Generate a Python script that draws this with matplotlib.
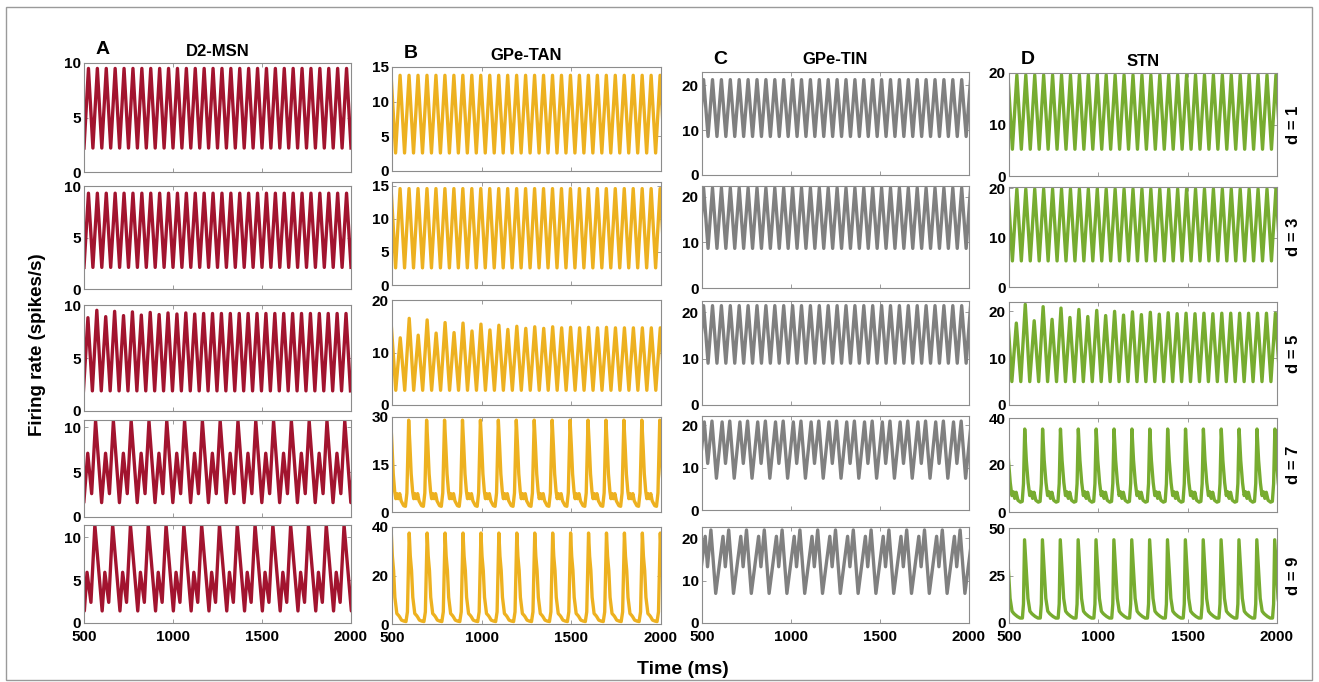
import numpy as np
import matplotlib
matplotlib.use("Agg")
import matplotlib.pyplot as plt
from matplotlib.patches import Rectangle

plt.rcParams['font.family'] = ['Liberation Sans', 'DejaVu Sans']
plt.rcParams['font.weight'] = 'bold'

# Datos (ms, spikes/s)
t_min, t_max = 500, 2000
half_fast = 25      # ms entre pico y valle (d = 1, 3, 5)
period_slow = 100   # ms entre picos grandes (d = 7, 9)

columns = ['D2-MSN', 'GPe-TAN', 'GPe-TIN', 'STN']
letters = ['A', 'B', 'C', 'D']
d_labels = ['d = 1', 'd = 3', 'd = 5', 'd = 7', 'd = 9']
colors = ['#A2142F', '#EDB120', '#808080', '#77AC30']

# filas d = 1, 3, 5: tiempo del primer pico, picos, valle
msn_fast_t = [525, 525, 522]
msn_fast_peaks = [
    [9.5] * 30,
    [9.3] * 30,
    [8.8, 9.5, 8.9, 9.4, 9.0, 9.35, 9.05, 9.3, 9.1, 9.25, 9.15, 9.25, 9.15, 9.2, 9.2,
     9.2, 9.2, 9.2, 9.2, 9.2, 9.2, 9.2, 9.2, 9.2, 9.2, 9.2, 9.2, 9.2, 9.2, 9.2],
]
msn_fast_trough = [2.2, 2.1, 1.9]

tan_fast_t = [495, 495, 496]
tan_fast_peaks = [
    [13.8] * 31,
    [14.6] * 31,
    [15.2, 12.8, 16.5, 13.3, 16.2, 13.7, 15.7, 13.8, 15.6, 14.1, 15.4, 14.3, 15.2, 14.4, 15.0,
     14.6, 14.9, 14.6, 14.9, 14.7, 14.8, 14.7, 14.8, 14.7, 14.8, 14.7, 14.7, 14.7, 14.7, 14.7, 14.7],
]
tan_fast_trough = [2.6, 2.6, 2.8]

tin_fast_t = [509, 509, 509]
tin_fast_peaks = [[21.3] * 31, [22.0] * 31, [21.4] * 31]
tin_fast_trough = [8.6, 8.7, 9.0]

stn_fast_t = [494, 494, 491]
stn_fast_peaks = [
    [19.6] * 31,
    [19.9] * 31,
    [20.0, 17.5, 21.5, 18.0, 21.0, 18.3, 20.7, 18.7, 20.4, 18.9, 20.2, 19.1, 20.0, 19.2, 19.9,
     19.3, 19.8, 19.4, 19.7, 19.5, 19.6, 19.5, 19.6, 19.5, 19.6, 19.6, 19.6, 19.6, 19.6, 19.6, 19.6],
]
stn_fast_trough = [5.2, 5.3, 5.0]

# filas d = 7, 9: un ciclo (offset ms, valor) repetido cada 100 ms
msn_slow_t = [565, 561]
msn_slow_off = [[0, 34, 56, 78], [0, 41, 56, 78]]
msn_slow_val = [[10.7, 1.6, 7.1, 2.6], [11.4, 1.4, 5.9, 2.4]]

tan_slow_t = [593, 596]
tan_slow_off = [[0, 7, 14, 22, 28, 35, 42, 50, 58, 72, 82, 90],
                [0, 6, 13, 20, 31, 40, 46, 57, 70, 82, 90]]
tan_slow_val = [[29.0, 21.0, 12.0, 6.5, 4.2, 5.8, 4.2, 5.8, 3.5, 2.0, 1.8, 6.0],
                [37.5, 28.0, 22.0, 11.0, 4.3, 3.6, 3.0, 1.6, 1.2, 1.0, 5.0]]

tin_slow_t = [481, 477]
tin_slow_off = [[0, 32, 51, 75], [0, 41, 54, 73]]
tin_slow_val = [[7.5, 20.8, 11.0, 21.0], [7.0, 20.5, 13.3, 22.0]]

stn_slow_t = [588, 587]
stn_slow_off = [[0, 9, 19, 28, 36, 44, 52, 62, 76, 86, 93],
                [0, 9, 19, 30, 40, 47, 60, 75, 88, 94]]
stn_slow_val = [[35.3, 22.0, 12.5, 7.0, 8.6, 5.8, 8.4, 5.0, 4.2, 4.5, 12.0],
                [43.8, 29.0, 13.0, 6.2, 5.0, 4.4, 3.4, 2.6, 2.6, 10.0]]

# limites y ticks del eje y
ylims = [
    [10, 10, 10, 10.8, 11.4],
    [15, 15.6, 20, 30, 40],
    [23, 22.4, 22.4, 22.2, 22.7],
    [20, 20.3, 22, 40, 50],
]
yticks = [
    [[0, 5, 10]] * 5,
    [[0, 5, 10, 15], [0, 5, 10, 15], [0, 10, 20], [0, 15, 30], [0, 20, 40]],
    [[0, 10, 20]] * 5,
    [[0, 10, 20], [0, 10, 20], [0, 10, 20], [0, 20, 40], [0, 25, 50]],
]

fast_t = [msn_fast_t, tan_fast_t, tin_fast_t, stn_fast_t]
fast_peaks = [msn_fast_peaks, tan_fast_peaks, tin_fast_peaks, stn_fast_peaks]
fast_trough = [msn_fast_trough, tan_fast_trough, tin_fast_trough, stn_fast_trough]
slow_t = [msn_slow_t, tan_slow_t, tin_slow_t, stn_slow_t]
slow_off = [msn_slow_off, tan_slow_off, tin_slow_off, stn_slow_off]
slow_val = [msn_slow_val, tan_slow_val, tin_slow_val, stn_slow_val]


def fast_trace(t_first, peaks, trough):
    t, y = [], []
    for k, p in enumerate(peaks):
        tp = t_first + 2 * half_fast * k
        t += [tp - half_fast, tp]
        y += [trough, p]
    t.append(t[-1] + half_fast)
    y.append(trough)
    return np.array(t), np.array(y)


def slow_trace(t0, offs, vals):
    t, y = [], []
    for k in range(-1, 16):
        for o, v in zip(offs, vals):
            t.append(t0 + period_slow * k + o)
            y.append(v)
    return np.array(t), np.array(y)


# posiciones en pixeles: columnas (izq, der) y filas (arriba, abajo)
W, H = 1319, 682
col_x = [(84, 351), (392, 661), (702, 969), (1009, 1277)]
row_y = [
    [(63, 172), (186, 289), (305, 411), (420, 517), (525, 623)],
    [(67, 171), (182, 285), (300, 405), (417, 512), (527, 624)],
    [(72, 175), (186, 288), (301, 405), (416, 510), (527, 623)],
    [(73, 176), (187, 287), (302, 405), (418, 512), (528, 623)],
]

fig = plt.figure(figsize=(W / 100, H / 100), dpi=100)
frame_col = '#8c8c8c'

for c in range(4):
    x0, x1 = col_x[c]
    for r in range(5):
        y0, y1 = row_y[c][r]
        ax = fig.add_axes([x0 / W, 1 - y1 / H, (x1 - x0) / W, (y1 - y0) / H])
        if r < 3:
            t, y = fast_trace(fast_t[c][r], fast_peaks[c][r], fast_trough[c][r])
        else:
            t, y = slow_trace(slow_t[c][r - 3], slow_off[c][r - 3], slow_val[c][r - 3])
        ax.plot(t, y, color=colors[c], lw=2.4, solid_joinstyle='round')
        ax.set_xlim(t_min, t_max)
        ax.set_ylim(0, ylims[c][r])
        ax.set_yticks(yticks[c][r])
        ax.set_xticks([500, 1000, 1500, 2000])
        ax.tick_params(direction='in', length=3, width=0.6, colors=frame_col,
                       labelcolor='black', labelsize=11, top=True, right=True, pad=2.5)
        ax.tick_params(axis='x', pad=5)
        if r < 4:
            ax.set_xticklabels([])
        for s in ax.spines.values():
            s.set_color(frame_col)
            s.set_linewidth(0.8)
        for lab in ax.get_xticklabels() + ax.get_yticklabels():
            lab.set_fontweight('bold')

    top = row_y[c][0][0]
    fig.text(col_x[c][0] / W + 0.014, 1 - (top - 13) / H, letters[c], fontsize=14,
             fontweight='bold', ha='center', va='center')
    fig.text((x0 + x1) / 2 / W, 1 - (top - 12) / H, columns[c], fontsize=12,
             fontweight='bold', ha='center', va='center')

for r in range(5):
    y0, y1 = row_y[3][r]
    fig.text(1294 / W, 1 - (y0 + y1) / 2 / H, d_labels[r], fontsize=12,
             fontweight='bold', rotation=90, ha='center', va='center')

fig.text(38 / W, 1 - 345 / H, 'Firing rate (spikes/s)', fontsize=13.5,
         fontweight='bold', rotation=90, ha='center', va='center')
fig.text(683 / W, 1 - 670 / H, 'Time (ms)', fontsize=14,
         fontweight='bold', ha='center', va='center')

fig.add_artist(Rectangle((6 / W, 1 - 680 / H), 1306 / W, 673 / H,
                         transform=fig.transFigure, fill=False,
                         edgecolor='#9a9a9a', lw=1.0))

fig.savefig('out.png', dpi=100)
